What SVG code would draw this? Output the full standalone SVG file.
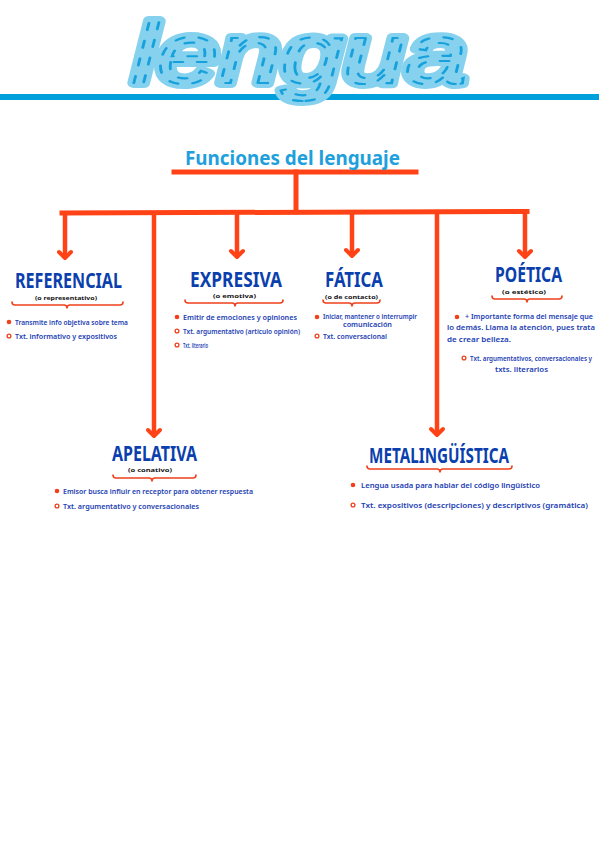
<svg xmlns="http://www.w3.org/2000/svg" width="599" height="848" viewBox="0 0 599 848">
<defs>
<style>
.ttl{font-family:"Noto Sans","DejaVu Sans",sans-serif;font-weight:700;fill:#0b3fae;}
.sub{font-family:"Noto Sans","DejaVu Sans",sans-serif;font-weight:700;fill:#111;font-size:6px;}
.txt{font-family:"Noto Sans","DejaVu Sans",sans-serif;font-weight:600;fill:#1b3db3;font-size:7px;}
.brace{fill:none;stroke:#f0401c;stroke-width:1.6;stroke-linecap:round;stroke-linejoin:round;}
.dot{fill:#f0401c;}
.ring{fill:none;stroke:#f0401c;stroke-width:1.3;}
.con{stroke:#ff4316;stroke-width:5;fill:none;stroke-linecap:square;}
.drop{stroke:#ff4316;stroke-width:4.5;fill:none;}
.big{font-family:"Liberation Sans",sans-serif;font-style:italic;font-size:86px;}
</style>
<marker id="ah" markerUnits="userSpaceOnUse" markerWidth="20" markerHeight="20" viewBox="-10 -10 20 20" refX="0" refY="0" orient="auto">
<path d="M-6,-6 L0,0 L-6,6" fill="none" stroke="#ff4316" stroke-width="4" stroke-linecap="round" stroke-linejoin="round"/>
</marker>
</defs>
<rect width="599" height="848" fill="#ffffff"/>

<g id="header">
<rect x="0" y="94" width="599" height="6" fill="#00a0dd"/>
<text class="big" x="132" y="83" textLength="335" lengthAdjust="spacingAndGlyphs" fill="#86d2ee" stroke="#86d2ee" stroke-width="10" stroke-linejoin="round">lengua</text>
<text class="big" x="132" y="83" textLength="335" lengthAdjust="spacingAndGlyphs" fill="none" stroke="#17a1dc" stroke-width="2.2" stroke-dasharray="7 11" stroke-linecap="round">lengua</text>
</g>

<g id="connectors">
<line class="con" x1="174" y1="172" x2="416" y2="172"/>
<line class="con" x1="296" y1="172" x2="296" y2="211"/>
<line class="con" x1="62" y1="213" x2="527" y2="211.5"/>
<line class="drop" x1="65" y1="213" x2="65" y2="258" marker-end="url(#ah)"/>
<line class="drop" x1="237" y1="212" x2="237" y2="257" marker-end="url(#ah)"/>
<line class="drop" x1="352" y1="212" x2="352" y2="256" marker-end="url(#ah)"/>
<line class="drop" x1="525" y1="212" x2="525" y2="257" marker-end="url(#ah)"/>
<line class="drop" x1="154" y1="213" x2="154" y2="436" stroke-width="5.5" marker-end="url(#ah)"/>
<line class="drop" x1="437" y1="212" x2="437" y2="435" stroke-width="5.5" marker-end="url(#ah)"/>
</g>

<g id="funciones">
<text x="185" y="165" font-family="Noto Sans, DejaVu Sans, sans-serif" font-weight="700" font-size="20" fill="#1ea0dd" textLength="215" lengthAdjust="spacingAndGlyphs">Funciones del lenguaje</text>
</g>

<g id="referencial">
<text class="ttl" x="15" y="288" font-size="21" textLength="107" lengthAdjust="spacingAndGlyphs">REFERENCIAL</text>
<text class="sub" x="35" y="300" textLength="62" lengthAdjust="spacingAndGlyphs">(o representativo)</text>
<path class="brace" d="M12,302 Q12,305 15,305 L64,305 Q67,305 67,308 Q67,305 70,305 L120,305 Q123,305 123,302"/>
<circle class="dot" cx="9" cy="322" r="2.3"/>
<text class="txt" x="15" y="325" textLength="113" lengthAdjust="spacingAndGlyphs">Transmite info objetiva sobre tema</text>
<circle class="ring" cx="9" cy="336" r="1.9"/>
<text class="txt" x="15" y="339" textLength="102" lengthAdjust="spacingAndGlyphs">Txt. informativo y expositivos</text>
</g>

<g id="expresiva">
<text class="ttl" x="190" y="287" font-size="21" textLength="92" lengthAdjust="spacingAndGlyphs">EXPRESIVA</text>
<text class="sub" x="213" y="298" textLength="43" lengthAdjust="spacingAndGlyphs">(o emotiva)</text>
<path class="brace" d="M185,300 Q185,303 188,303 L232,303 Q235,303 235,306 Q235,303 238,303 L280,303 Q283,303 283,300"/>
<circle class="dot" cx="177" cy="317" r="2.3"/>
<text class="txt" x="183" y="320" textLength="114" lengthAdjust="spacingAndGlyphs">Emitir de emociones y opiniones</text>
<circle class="ring" cx="177" cy="331" r="1.9"/>
<text class="txt" x="183" y="334" textLength="117" lengthAdjust="spacingAndGlyphs">Txt. argumentativo (artículo opinión)</text>
<circle class="ring" cx="177" cy="345" r="1.9"/>
<text class="txt" x="183" y="348" textLength="25" lengthAdjust="spacingAndGlyphs">Txt. literario</text>
</g>

<g id="fatica">
<text class="ttl" x="325" y="287" font-size="21" textLength="58" lengthAdjust="spacingAndGlyphs">FÁTICA</text>
<text class="sub" x="325" y="298.5" textLength="53" lengthAdjust="spacingAndGlyphs">(o de contacto)</text>
<path class="brace" d="M323,300 Q323,303 326,303 L349,303 Q352,303 352,306 Q352,303 355,303 L377,303 Q380,303 380,300"/>
<circle class="dot" cx="317" cy="317" r="2.3"/>
<text class="txt" x="323" y="319" textLength="94" lengthAdjust="spacingAndGlyphs">Iniciar, mantener o interrumpir</text>
<text class="txt" x="343" y="327" textLength="49" lengthAdjust="spacingAndGlyphs">comunicación</text>
<circle class="ring" cx="317" cy="336" r="1.9"/>
<text class="txt" x="323" y="339" textLength="64" lengthAdjust="spacingAndGlyphs">Txt. conversacional</text>
</g>

<g id="poetica">
<text class="ttl" x="495" y="282" font-size="21" textLength="67" lengthAdjust="spacingAndGlyphs">POÉTICA</text>
<text class="sub" x="502" y="294" textLength="44" lengthAdjust="spacingAndGlyphs">(o estético)</text>
<path class="brace" d="M492,296 Q492,299 495,299 L524,299 Q527,299 527,302 Q527,299 530,299 L559,299 Q562,299 562,296"/>
<circle class="dot" cx="457" cy="317" r="2.3"/>
<text class="txt" x="465" y="319" textLength="128" lengthAdjust="spacingAndGlyphs">+ Importante forma del mensaje que</text>
<text class="txt" x="447" y="330" textLength="148" lengthAdjust="spacingAndGlyphs">lo demás. Llama la atención, pues trata</text>
<text class="txt" x="447" y="342" textLength="64" lengthAdjust="spacingAndGlyphs">de crear belleza.</text>
<circle class="ring" cx="464" cy="358" r="1.9"/>
<text class="txt" x="470" y="361" textLength="122" lengthAdjust="spacingAndGlyphs">Txt. argumentativos, conversacionales y</text>
<text class="txt" x="495" y="372" textLength="53" lengthAdjust="spacingAndGlyphs">txts. literarios</text>
</g>

<g id="apelativa">
<text class="ttl" x="112" y="461" font-size="21" textLength="85" lengthAdjust="spacingAndGlyphs">APELATIVA</text>
<text class="sub" x="128" y="472" textLength="44" lengthAdjust="spacingAndGlyphs">(o conativo)</text>
<path class="brace" d="M113,475 Q113,478 116,478 L149,478 Q152,478 152,481 Q152,478 155,478 L193,478 Q196,478 196,475"/>
<circle class="dot" cx="57" cy="491" r="2.3"/>
<text class="txt" x="63" y="494" textLength="190" lengthAdjust="spacingAndGlyphs">Emisor busca influir en receptor para obtener respuesta</text>
<circle class="ring" cx="57" cy="506" r="1.9"/>
<text class="txt" x="63" y="509" textLength="136" lengthAdjust="spacingAndGlyphs">Txt. argumentativo y conversacionales</text>
</g>

<g id="metalinguistica">
<text class="ttl" x="369" y="463" font-size="21" textLength="140" lengthAdjust="spacingAndGlyphs">METALINGÜÍSTICA</text>
<path class="brace" d="M367,466 Q367,469 370,469 L437,469 Q440,469 440,472 Q440,469 443,469 L509,469 Q512,469 512,466"/>
<circle class="dot" cx="353" cy="485" r="2.3"/>
<text class="txt" x="361" y="488" textLength="179" lengthAdjust="spacingAndGlyphs">Lengua usada para hablar del código lingüístico</text>
<circle class="ring" cx="353" cy="505" r="1.9"/>
<text class="txt" x="361" y="508" textLength="227" lengthAdjust="spacingAndGlyphs">Txt. expositivos (descripciones) y descriptivos (gramática)</text>
</g>
</svg>
